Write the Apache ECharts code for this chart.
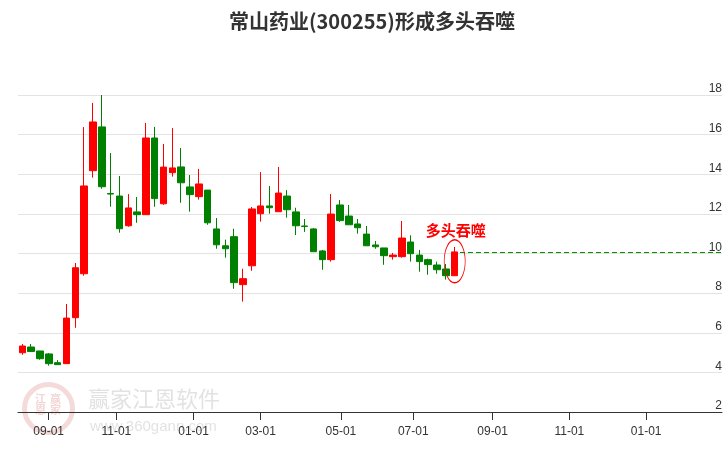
<!DOCTYPE html>
<html><head><meta charset="utf-8">
<script src="https://cdn.jsdelivr.net/npm/echarts@6/dist/echarts.min.js"></script>
<style>html,body{margin:0;padding:0;background:#fff}#c{width:726px;height:450px}</style>
</head><body><div id="c"></div>
<script>
// weekly candles (week start dates)
const weeks = ['2023-08-07','2023-08-14','2023-08-21','2023-08-28','2023-09-04','2023-09-11','2023-09-18','2023-09-25',
'2023-10-09','2023-10-16','2023-10-23','2023-10-30','2023-11-06','2023-11-13','2023-11-20','2023-11-27',
'2023-12-04','2023-12-11','2023-12-18','2023-12-25','2024-01-02','2024-01-08','2024-01-15','2024-01-22','2024-01-29',
'2024-02-05','2024-02-19','2024-02-26','2024-03-04','2024-03-11','2024-03-18','2024-03-25','2024-04-01','2024-04-08',
'2024-04-15','2024-04-22','2024-04-29','2024-05-06','2024-05-13','2024-05-20','2024-05-27','2024-06-03','2024-06-11',
'2024-06-17','2024-06-24','2024-07-01','2024-07-08','2024-07-15','2024-07-22','2024-07-29'];
const opens  = [4.99,5.28,5.08,4.93,4.49,4.44,6.76,8.98,14.18,16.39,13.03,12.90,11.40,12.10,11.96,15.83,12.51,14.08,14.37,13.36,
12.87,13.20,11.24,10.39,10.85,8.43,9.38,12.01,12.40,12.11,12.90,12.10,11.39,11.24,10.13,9.69,12.45,11.89,11.49,10.98,
10.43,10.28,9.84,9.84,10.58,9.92,9.69,9.42,9.22,8.88];
const closes = [5.33,5.05,4.69,4.44,4.39,6.74,9.28,13.41,16.64,13.37,13.00,11.25,12.30,11.96,15.83,12.77,14.36,14.32,13.57,12.97,
13.51,11.55,10.44,10.24,8.53,8.73,12.25,12.40,12.31,13.05,12.21,11.40,11.36,10.09,9.69,11.99,11.66,11.45,11.30,10.39,
10.34,9.89,9.92,10.78,9.99,9.59,9.44,9.18,8.88,10.08];
const lows   = [4.89,5.04,4.64,4.34,4.39,4.44,6.25,8.88,13.83,13.27,12.36,11.05,11.35,11.55,11.96,12.36,12.46,13.88,12.56,12.11,
12.72,11.45,10.24,9.79,8.22,7.57,9.13,11.61,12.01,12.11,11.81,10.93,11.09,10.08,9.18,9.59,11.60,11.45,11.00,10.39,
10.24,9.43,9.69,9.79,9.59,9.08,8.93,8.98,8.68,8.88];
const highs  = [5.43,5.43,5.08,4.98,4.62,7.45,9.52,16.38,17.60,18.00,15.07,13.91,13.00,12.85,16.59,16.39,15.53,16.33,15.32,13.96,
14.27,13.20,11.79,10.70,11.25,9.23,12.35,14.11,13.41,14.37,13.20,12.31,11.74,11.29,10.18,13.00,12.70,12.45,11.74,11.39,
10.63,10.28,10.03,11.64,10.92,10.18,9.74,9.59,9.47,10.33];
// month tick labels and where they fall on the weekly (trading-time) scale
const tickLabels = ['09-01','11-01','01-01','03-01','05-01','07-01','09-01','11-01','01-01'];
const tickWeeks  = [2.98,10.65,19.4,27.0,36.1,44.3,53.3,62.0,70.7];
const yTicks = [2,18,2]; // min, max, step
const title = '常山药业(300255)形成多头吞噬';
const signal = '多头吞噬';

const last = weeks.length - 1;
const candles = weeks.map((w, i) => [i, opens[i], closes[i], lows[i], highs[i]]);
const chart = echarts.init(document.getElementById('c'), null, {renderer: 'canvas'});
chart.setOption({
  animation: false,
  backgroundColor: '#fff',
  title: {
    text: title, left: 224, top: 6,
    textStyle: {fontSize: 20, fontWeight: 'bold', color: '#333', fontFamily: 'Noto Sans CJK SC'}
  },
  grid: {left: 18, right: 4, top: 95, bottom: 38},
  xAxis: {
    type: 'value', min: -0.5, max: 79.3,
    splitLine: {show: false},
    axisLine: {show: true, onZero: false, lineStyle: {color: '#333', width: 1}},
    axisTick: {show: true, length: 8, customValues: tickWeeks, lineStyle: {color: '#333'}},
    axisLabel: {
      customValues: tickWeeks, margin: 14, color: '#333', fontSize: 12, fontFamily: 'Liberation Sans',
      formatter: v => { let k = 0, d = 1e9; tickWeeks.forEach((t, j) => { if (Math.abs(t - v) < d) { d = Math.abs(t - v); k = j; } }); return tickLabels[k]; }
    }
  },
  yAxis: {
    type: 'value', position: 'right', min: yTicks[0], max: yTicks[1], interval: yTicks[2],
    axisLine: {show: false}, axisTick: {show: false},
    axisLabel: {inside: true, margin: 0, color: '#333', fontSize: 12, fontFamily: 'Liberation Sans', verticalAlign: 'bottom'},
    splitLine: {lineStyle: {color: '#e3e3e3', width: 1}}
  },
  graphic: [
    {type: 'circle', left: 22, top: 382, shape: {r: 24}, style: {fill: 'rgba(0,0,0,0)', stroke: 'rgba(225,150,150,0.35)', lineWidth: 5}, z: 0, silent: true},
    {type: 'text', left: 35, top: 393, style: {text: '江\n恩', font: 'bold 11px "Noto Sans CJK SC"', fill: 'rgba(225,150,150,0.4)'}, z: 0, silent: true},
    {type: 'text', left: 50, top: 393, style: {text: '赢\n家', font: 'bold 11px "Noto Sans CJK SC"', fill: 'rgba(225,150,150,0.4)'}, z: 0, silent: true},
    {type: 'text', left: 88, top: 388, style: {text: '赢家江恩软件', font: '22px "Noto Sans CJK SC"', fill: 'rgba(190,190,190,0.45)'}, z: 0, silent: true},
    {type: 'text', left: 90, top: 419, style: {text: 'www.360gann.com', font: '15px "Liberation Sans"', fill: 'rgba(190,190,190,0.45)'}, z: 0, silent: true}
  ],
  series: [{
    type: 'candlestick',
    data: candles,
    encode: {x: 0, y: [1, 2, 3, 4]},
    barWidth: 7,
    itemStyle: {color: '#ff0000', color0: '#008000', borderColor: '#ff0000', borderColor0: '#008000', borderWidth: 1},
    markLine: {
      silent: true, symbol: 'none', label: {show: false},
      lineStyle: {type: [5, 3], color: '#009000', width: 1},
      data: [[{coord: [last + 0.6, closes[last]]}, {coord: [79.3, closes[last]]}]]
    },
    markPoint: {
      silent: true,
      data: [
        {coord: [last, (lows[last] + highs[last]) / 2], symbol: 'circle', symbolSize: [21, 43],
         itemStyle: {color: 'rgba(0,0,0,0)', borderColor: '#ff0000', borderWidth: 1}, label: {show: false}},
        {coord: [last, highs[last]], symbol: 'circle', symbolSize: 1, itemStyle: {color: 'rgba(0,0,0,0)'},
         label: {show: true, formatter: signal, position: 'inside', offset: [1, -17], color: '#ff0000', fontSize: 15, fontWeight: 'bold', fontFamily: 'Noto Sans CJK SC'}}
      ]
    }
  }]
});
</script></body></html>
